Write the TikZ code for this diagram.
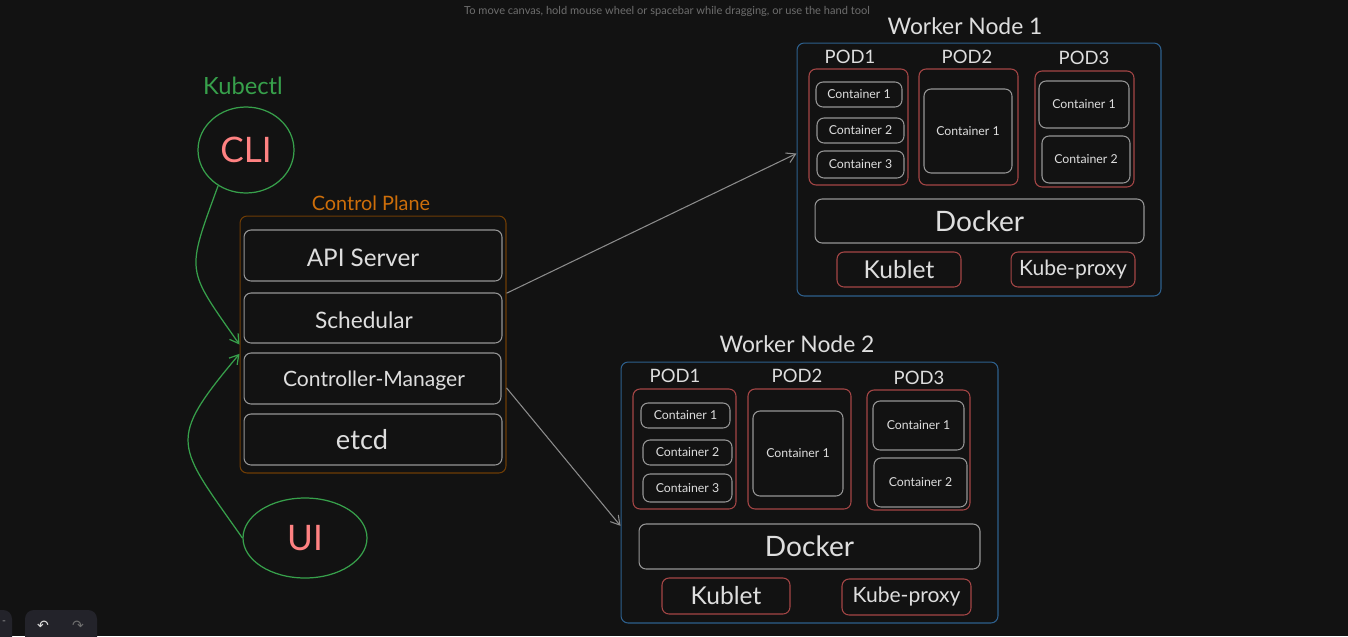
\documentclass[tikz,border=0pt]{standalone}
\usepackage{fontspec}
\setmainfont{Lato}
\newfontfamily\symfont{DejaVu Sans}
\usepackage{tikz}
\usetikzlibrary{arrows.meta,shapes,calc,positioning}
\definecolor{canvas}{RGB}{18,18,18}
\definecolor{ink}{RGB}{222,222,222}
\definecolor{boxgray}{RGB}{150,150,150}
\definecolor{podred}{RGB}{165,70,70}
\definecolor{nodeblue}{RGB}{45,95,140}
\definecolor{planebrown}{RGB}{110,60,5}
\definecolor{planeorange}{RGB}{205,110,10}
\definecolor{cligreen}{RGB}{55,160,75}
\definecolor{clired}{RGB}{255,130,130}
\definecolor{linkgray}{RGB}{140,140,140}
\definecolor{hintgray}{RGB}{110,110,110}
\definecolor{toolbar}{RGB}{35,35,42}
\tikzstyle{comp}  =[draw=boxgray, rounded corners=4pt, line width=0.6pt,
                    text=ink, inner sep=0pt]
\tikzstyle{ctr}   =[comp, font=\fontsize{7}{9}\selectfont]
\tikzstyle{pod}   =[draw=podred, rounded corners=4pt, line width=0.6pt,
                    text=ink, inner sep=0pt]
\tikzstyle{worker}=[draw=nodeblue, rounded corners=4pt, line width=0.6pt,
                    inner sep=0pt]
\tikzstyle{title} =[inner sep=1pt, text=ink]
\tikzstyle{client}=[ellipse, draw=cligreen, line width=0.7pt, inner sep=0pt,
                    text=clired, font=\fontsize{20}{24}\selectfont]
\tikzstyle{link}  =[draw=linkgray, line width=0.6pt,
                    -{Straight Barb[length=5pt,width=6pt]}]
\tikzstyle{cmd}   =[draw=cligreen, line width=0.7pt,
                    -{Straight Barb[length=5pt,width=6pt]}]

\begin{document}
\begin{tikzpicture}[x=0.02cm, y=-0.02cm]
    \fill[canvas] (0,0) rectangle (1348,636);
    \useasboundingbox (0,0) rectangle (1348,636);
    \clip (0,0) rectangle (1348,636);
    \node (hint) [inner sep=0pt, text=hintgray, font=\fontsize{6.3}{7}\selectfont]
        at (667,11) {To move canvas, hold mouse wheel or spacebar while dragging, or use the hand tool};

    % clients
    \node (kubectl) [inner sep=0pt, text=cligreen, font=\fontsize{13.5}{16}\selectfont]
        at (243,86) {Kubectl};
    \node (cli) [client, minimum width=1.92cm, minimum height=1.72cm] at (246,150) {CLI};
    \node (ui) [client, minimum width=2.48cm, minimum height=1.6cm] at (305,538) {UI};

    % control plane
    \node (cptitle) [inner sep=0pt, text=planeorange, font=\fontsize{11.3}{13}\selectfont]
        at (371,203) {Control Plane};
    \node (cp) [draw=planebrown, rounded corners=4pt, line width=0.6pt,
        minimum width=5.32cm, minimum height=5.14cm] at (373,344.5) {};
    \node (api) [comp, minimum width=5.16cm, minimum height=1.02cm] at (373,255.5) {};
    \node (sched) [comp, minimum width=5.16cm, minimum height=1.0cm] at (373,318) {};
    \node (cm) [comp, minimum width=5.14cm, minimum height=1.02cm] at (372.5,378.5) {};
    \node (etcd) [comp, minimum width=5.16cm, minimum height=1.02cm] at (373,439.5) {};
    \node (apit) [title, font=\fontsize{13.8}{16}\selectfont] at (363,258) {API Server};
    \node (schedt) [title, font=\fontsize{12.9}{15}\selectfont] at (364,320) {Schedular};
    \node (cmt) [title, font=\fontsize{12}{14}\selectfont] at (374,381) {Controller-Manager};
    \node (etcdt) [title, font=\fontsize{15.5}{18}\selectfont] at (362,440) {etcd};

    % worker node 1
    \node (wn1title) [title, font=\fontsize{13}{15}\selectfont] at (965,26) {Worker Node 1};
    \node (wn1) [worker, minimum width=7.28cm, minimum height=5.06cm] at (979,169.5) {};
    \node (wn1p1t) [title, font=\fontsize{10.5}{12}\selectfont] at (850,57) {POD1};
    \node (wn1p2t) [title, font=\fontsize{10.5}{12}\selectfont] at (967,57) {POD2};
    \node (wn1p3t) [title, font=\fontsize{10.5}{12}\selectfont] at (1084,58) {POD3};
    \node (wn1p1) [pod, minimum width=1.98cm, minimum height=2.32cm] at (858.5,127) {};
    \node (wn1p2) [pod, minimum width=1.98cm, minimum height=2.32cm] at (968.5,127) {};
    \node (wn1p3) [pod, minimum width=1.98cm, minimum height=2.32cm] at (1084.5,129) {};
    \node (wn1c11) [ctr, minimum width=1.72cm, minimum height=0.5cm] at (859,94.5) {Container 1};
    \node (wn1c12) [ctr, minimum width=1.74cm, minimum height=0.5cm] at (860.5,130.5) {Container 2};
    \node (wn1c13) [ctr, minimum width=1.74cm, minimum height=0.54cm] at (860.5,164.5) {Container 3};
    \node (wn1c21) [ctr, minimum width=1.76cm, minimum height=1.68cm] at (968,131) {Container 1};
    \node (wn1c31) [ctr, minimum width=1.8cm, minimum height=0.94cm] at (1084,104.5) {Container 1};
    \node (wn1c32) [ctr, minimum width=1.76cm, minimum height=0.94cm] at (1086,159.5) {Container 2};
    \node (wn1dock) [comp, minimum width=6.58cm, minimum height=0.88cm,
        font=\fontsize{16}{19}\selectfont] at (979.5,221) {Docker};
    \node (wn1kub) [pod, minimum width=2.48cm, minimum height=0.7cm,
        font=\fontsize{14}{16}\selectfont] at (899,269.5) {Kublet};
    \node (wn1prx) [pod, minimum width=2.48cm, minimum height=0.7cm,
        font=\fontsize{12}{14}\selectfont] at (1073,269.5) {Kube-proxy};

    % worker node 2
    \node (wn2title) [title, font=\fontsize{13}{15}\selectfont] at (797,344) {Worker Node 2};
    \node (wn2) [worker, minimum width=7.54cm, minimum height=5.22cm] at (809.5,492.5) {};
    \node (wn2p1t) [title, font=\fontsize{10.5}{12}\selectfont] at (675,376) {POD1};
    \node (wn2p2t) [title, font=\fontsize{10.5}{12}\selectfont] at (797,376) {POD2};
    \node (wn2p3t) [title, font=\fontsize{10.5}{12}\selectfont] at (919,378) {POD3};
    \node (wn2p1) [pod, minimum width=2.06cm, minimum height=2.4cm] at (684.5,449) {};
    \node (wn2p2) [pod, minimum width=2.06cm, minimum height=2.4cm] at (799.5,449) {};
    \node (wn2p3) [pod, minimum width=2.06cm, minimum height=2.4cm] at (918.5,450) {};
    \node (wn2c11) [ctr, minimum width=1.78cm, minimum height=0.5cm] at (685.5,415.5) {Container 1};
    \node (wn2c12) [ctr, minimum width=1.78cm, minimum height=0.5cm] at (687.5,452.5) {Container 2};
    \node (wn2c13) [ctr, minimum width=1.78cm, minimum height=0.56cm] at (687.5,488) {Container 3};
    \node (wn2c21) [ctr, minimum width=1.8cm, minimum height=1.7cm] at (798,453.5) {Container 1};
    \node (wn2c31) [ctr, minimum width=1.82cm, minimum height=0.98cm] at (918.5,425.5) {Container 1};
    \node (wn2c32) [ctr, minimum width=1.86cm, minimum height=0.98cm] at (920.5,482.5) {Container 2};
    \node (wn2dock) [comp, minimum width=6.82cm, minimum height=0.9cm,
        font=\fontsize{16}{19}\selectfont] at (809.5,546.5) {Docker};
    \node (wn2kub) [pod, minimum width=2.56cm, minimum height=0.72cm,
        font=\fontsize{14}{16}\selectfont] at (726,596) {Kublet};
    \node (wn2prx) [pod, minimum width=2.58cm, minimum height=0.72cm,
        font=\fontsize{12}{14}\selectfont] at (906.5,597) {Kube-proxy};

    % connectors
    \draw[cmd] (cli.232) to[out=250, in=125, looseness=1.5] (cp.west);
    \draw[cmd] (ui.west) to[out=125, in=230, looseness=1.6] (cp.184);
    \draw[link] (cp.21.5) -- (wn1.175);
    \draw[link] (cp.-18) -- (wn2.-170.5);

    % canvas toolbar
    \fill[toolbar, rounded corners=5pt] (-10,610) rectangle (12,650);
    \fill[toolbar, rounded corners=5pt] (25,610) rectangle (97,650);
    \node (zoomout) [inner sep=0pt, text=boxgray, font=\fontsize{6}{7}\selectfont] at (4,623) {-};
    \node (undo) [inner sep=0pt, text=ink, font=\symfont\fontsize{8}{9}\selectfont] at (43,626) {↶};
    \node (redo) [inner sep=0pt, text=hintgray, font=\symfont\fontsize{8}{9}\selectfont] at (78,626) {↷};
\end{tikzpicture}
\end{document}
